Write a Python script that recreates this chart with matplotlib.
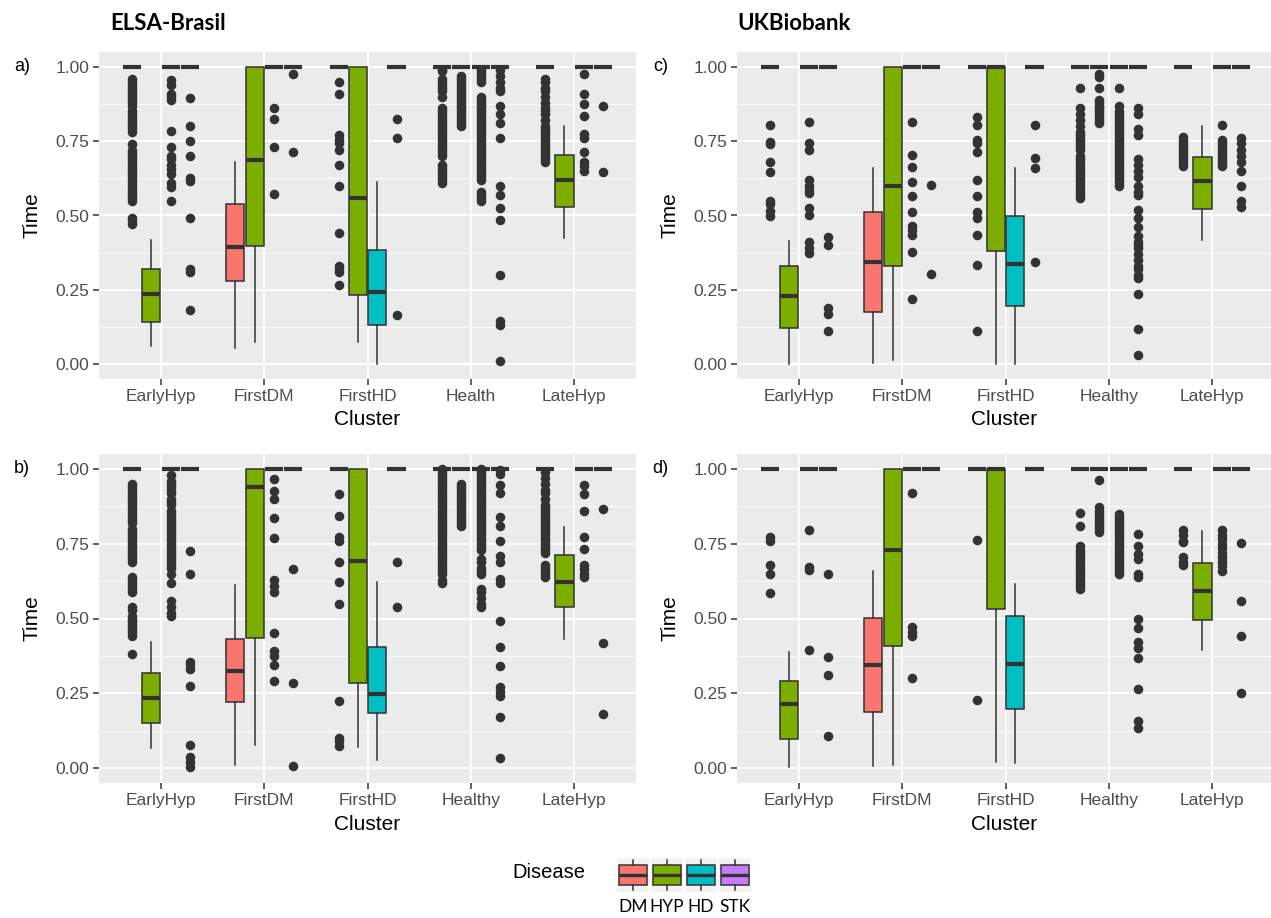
"""
Time-to-disease boxplots by cluster, ELSA-Brasil vs UKBiobank (ggplot look).
"""
import matplotlib
matplotlib.use("Agg")
import matplotlib.pyplot as plt

DISEASES = ["DM", "HYP", "HD", "STK"]
DISEASE_COLORS = ["#F8766D", "#7CAE00", "#00BFC4", "#C77CFF"]
CLUSTERS = ["EarlyHyp", "FirstDM", "FirstHD", "Healthy", "LateHyp"]
TICKS_A = ["EarlyHyp", "FirstDM", "FirstHD", "Health", "LateHyp"]
TICKS_BCD = ["EarlyHyp", "FirstDM", "FirstHD", "Healthy", "LateHyp"]
Y_TICKS = [0.0, 0.25, 0.5, 0.75, 1.0]
Y_TICK_LABELS = ["0.00", "0.25", "0.50", "0.75", "1.00"]

# (whisker low, q1, median, q3, whisker high); groups not listed sit entirely at 1.00
BOX_A = {
    ("EarlyHyp", "HYP"): (0.06, 0.143, 0.235, 0.32, 0.418),
    ("FirstDM", "DM"): (0.054, 0.28, 0.393, 0.54, 0.679),
    ("FirstDM", "HYP"): (0.076, 0.396, 0.687, 1.0, 1.0),
    ("FirstHD", "HYP"): (0.076, 0.233, 0.558, 1.0, 1.0),
    ("FirstHD", "HD"): (0.0, 0.13, 0.244, 0.385, 0.614),
    ("LateHyp", "HYP"): (0.424, 0.53, 0.62, 0.704, 0.80),
}
FLIERS_A = {
    ("EarlyHyp", "DM"): [0.96, 0.95, 0.94, 0.93, 0.92, 0.91, 0.90, 0.89, 0.88, 0.87, 0.85, 0.84, 0.83,
                         0.82, 0.81, 0.80, 0.79, 0.78, 0.74, 0.72, 0.71, 0.70, 0.69, 0.68, 0.67, 0.66,
                         0.65, 0.64, 0.63, 0.62, 0.61, 0.60, 0.59, 0.58, 0.57, 0.56, 0.55, 0.49, 0.48, 0.47],
    ("EarlyHyp", "HD"): [0.955, 0.94, 0.91, 0.90, 0.89, 0.785, 0.73, 0.70, 0.69, 0.67, 0.655, 0.64,
                         0.61, 0.595, 0.55],
    ("EarlyHyp", "STK"): [0.895, 0.80, 0.75, 0.70, 0.625, 0.615, 0.493, 0.32, 0.31, 0.183],
    ("FirstDM", "HD"): [0.86, 0.825, 0.73, 0.572],
    ("FirstDM", "STK"): [0.976, 0.713],
    ("FirstHD", "DM"): [0.95, 0.91, 0.77, 0.755, 0.745, 0.72, 0.67, 0.60, 0.44, 0.33, 0.32, 0.31, 0.267],
    ("FirstHD", "STK"): [0.825, 0.762, 0.164],
    ("Healthy", "DM"): [0.99, 0.985, 0.96, 0.95, 0.94, 0.93, 0.92, 0.90, 0.86, 0.85, 0.84, 0.83, 0.82,
                        0.81, 0.80, 0.79, 0.78, 0.77, 0.76, 0.75, 0.74, 0.73, 0.72, 0.71, 0.70, 0.67,
                        0.66, 0.65, 0.64, 0.63, 0.62, 0.61],
    ("Healthy", "HYP"): [0.97, 0.96, 0.95, 0.94, 0.93, 0.92, 0.91, 0.90, 0.89, 0.88, 0.87, 0.86, 0.85,
                         0.84, 0.83, 0.82, 0.81, 0.80],
    ("Healthy", "HD"): [0.99, 0.98, 0.97, 0.96, 0.95, 0.90, 0.89, 0.88, 0.87, 0.86, 0.85, 0.84, 0.83,
                        0.82, 0.81, 0.80, 0.79, 0.78, 0.77, 0.76, 0.75, 0.74, 0.73, 0.72, 0.71, 0.70,
                        0.69, 0.68, 0.67, 0.66, 0.65, 0.64, 0.63, 0.62, 0.58, 0.57, 0.56, 0.55],
    ("Healthy", "STK"): [0.99, 0.97, 0.95, 0.93, 0.92, 0.87, 0.84, 0.81, 0.76, 0.60, 0.57, 0.525, 0.485,
                         0.30, 0.145, 0.13, 0.01],
    ("LateHyp", "DM"): [0.96, 0.95, 0.93, 0.92, 0.90, 0.88, 0.86, 0.85, 0.84, 0.82, 0.80, 0.79, 0.78,
                        0.77, 0.76, 0.75, 0.74, 0.73, 0.72, 0.71, 0.70, 0.69, 0.68],
    ("LateHyp", "HD"): [0.975, 0.908, 0.874, 0.835, 0.773, 0.76, 0.712, 0.68, 0.665, 0.65],
    ("LateHyp", "STK"): [0.867, 0.645],
}

BOX_B = {
    ("EarlyHyp", "HYP"): (0.067, 0.15, 0.235, 0.318, 0.42),
    ("FirstDM", "DM"): (0.009, 0.22, 0.324, 0.433, 0.613),
    ("FirstDM", "HYP"): (0.076, 0.436, 0.939, 1.0, 1.0),
    ("FirstHD", "HYP"): (0.07, 0.284, 0.692, 1.0, 1.0),
    ("FirstHD", "HD"): (0.028, 0.184, 0.249, 0.405, 0.622),
    ("LateHyp", "HYP"): (0.43, 0.538, 0.622, 0.711, 0.806),
}
FLIERS_B = {
    ("EarlyHyp", "DM"): [0.95, 0.94, 0.93, 0.92, 0.91, 0.90, 0.89, 0.88, 0.87, 0.86, 0.85, 0.84, 0.83,
                         0.82, 0.80, 0.79, 0.78, 0.77, 0.76, 0.75, 0.74, 0.73, 0.72, 0.71, 0.70, 0.69,
                         0.64, 0.63, 0.62, 0.61, 0.60, 0.59, 0.54, 0.53, 0.51, 0.50, 0.49, 0.48, 0.47,
                         0.46, 0.45, 0.44, 0.38],
    ("EarlyHyp", "HD"): [0.98, 0.96, 0.95, 0.94, 0.93, 0.92, 0.90, 0.89, 0.88, 0.86, 0.85, 0.84, 0.83,
                         0.82, 0.81, 0.80, 0.79, 0.78, 0.77, 0.76, 0.75, 0.74, 0.73, 0.72, 0.71, 0.70,
                         0.69, 0.68, 0.67, 0.65, 0.62, 0.56, 0.54, 0.52, 0.51],
    ("EarlyHyp", "STK"): [0.727, 0.65, 0.355, 0.345, 0.33, 0.273, 0.076, 0.037, 0.02, 0.005],
    ("FirstDM", "HD"): [0.968, 0.926, 0.90, 0.837, 0.769, 0.628, 0.61, 0.59, 0.45, 0.39, 0.375, 0.345, 0.29],
    ("FirstDM", "STK"): [0.667, 0.284, 0.006],
    ("FirstHD", "DM"): [0.917, 0.843, 0.773, 0.76, 0.69, 0.622, 0.547, 0.223, 0.10, 0.09, 0.075],
    ("FirstHD", "STK"): [0.689, 0.538],
    ("Healthy", "DM"): [1.0, 0.99, 0.98, 0.97, 0.96, 0.95, 0.94, 0.93, 0.92, 0.91, 0.90, 0.89, 0.88,
                        0.87, 0.86, 0.85, 0.84, 0.83, 0.82, 0.81, 0.80, 0.79, 0.78, 0.77, 0.76, 0.75,
                        0.74, 0.73, 0.72, 0.71, 0.70, 0.69, 0.68, 0.67, 0.66, 0.65, 0.63, 0.62],
    ("Healthy", "HYP"): [0.95, 0.94, 0.93, 0.92, 0.91, 0.90, 0.89, 0.88, 0.87, 0.86, 0.85, 0.84, 0.83,
                         0.82, 0.81],
    ("Healthy", "HD"): [1.0, 0.99, 0.98, 0.97, 0.96, 0.95, 0.94, 0.93, 0.92, 0.91, 0.90, 0.89, 0.88,
                        0.87, 0.86, 0.85, 0.84, 0.83, 0.82, 0.81, 0.80, 0.79, 0.78, 0.77, 0.76, 0.75,
                        0.74, 0.73, 0.70, 0.69, 0.67, 0.66, 0.65, 0.60, 0.59, 0.57, 0.55, 0.54],
    ("Healthy", "STK"): [0.995, 0.984, 0.945, 0.92, 0.84, 0.81, 0.76, 0.71, 0.69, 0.632, 0.62, 0.49,
                         0.405, 0.34, 0.27, 0.255, 0.24, 0.17, 0.035],
    ("LateHyp", "DM"): [0.99, 0.97, 0.95, 0.93, 0.92, 0.90, 0.88, 0.87, 0.86, 0.85, 0.84, 0.83, 0.82,
                        0.81, 0.80, 0.79, 0.78, 0.77, 0.76, 0.75, 0.74, 0.73, 0.72, 0.68, 0.67, 0.66,
                        0.65, 0.64],
    ("LateHyp", "HD"): [0.945, 0.917, 0.858, 0.773, 0.731, 0.68, 0.665, 0.65, 0.64],
    ("LateHyp", "STK"): [0.867, 0.419, 0.182],
}

BOX_C = {
    ("EarlyHyp", "HYP"): (0.0, 0.12, 0.228, 0.331, 0.413),
    ("FirstDM", "DM"): (0.003, 0.175, 0.343, 0.511, 0.661),
    ("FirstDM", "HYP"): (0.015, 0.331, 0.598, 1.0, 1.0),
    ("FirstHD", "HYP"): (0.0, 0.382, 1.0, 1.0, 1.0),
    ("FirstHD", "HD"): (0.0, 0.194, 0.336, 0.499, 0.661),
    ("LateHyp", "HYP"): (0.418, 0.521, 0.617, 0.698, 0.80),
}
FLIERS_C = {
    ("EarlyHyp", "DM"): [0.805, 0.747, 0.74, 0.68, 0.648, 0.55, 0.54, 0.515, 0.497],
    ("EarlyHyp", "HD"): [0.816, 0.743, 0.72, 0.62, 0.60, 0.585, 0.575, 0.525, 0.50, 0.41, 0.39, 0.373],
    ("EarlyHyp", "STK"): [0.426, 0.40, 0.19, 0.17, 0.112],
    ("FirstDM", "HD"): [0.814, 0.704, 0.663, 0.614, 0.564, 0.513, 0.463, 0.45, 0.435, 0.377, 0.22],
    ("FirstDM", "STK"): [0.603, 0.303],
    ("FirstHD", "DM"): [0.833, 0.805, 0.755, 0.745, 0.715, 0.62, 0.564, 0.513, 0.49, 0.435, 0.332, 0.113],
    ("FirstHD", "STK"): [0.803, 0.693, 0.66, 0.343],
    ("Healthy", "DM"): [0.93, 0.86, 0.84, 0.82, 0.80, 0.78, 0.77, 0.76, 0.75, 0.74, 0.73, 0.72, 0.70,
                        0.69, 0.68, 0.67, 0.66, 0.65, 0.64, 0.63, 0.62, 0.61, 0.60, 0.59, 0.58, 0.57, 0.56],
    ("Healthy", "HYP"): [0.975, 0.965, 0.928, 0.89, 0.88, 0.87, 0.86, 0.85, 0.84, 0.83, 0.82, 0.81],
    ("Healthy", "HD"): [0.928, 0.867, 0.85, 0.84, 0.83, 0.82, 0.81, 0.80, 0.79, 0.78, 0.77, 0.76, 0.75,
                        0.74, 0.73, 0.72, 0.71, 0.70, 0.69, 0.68, 0.67, 0.66, 0.65, 0.64, 0.63, 0.62,
                        0.61, 0.60],
    ("Healthy", "STK"): [0.86, 0.84, 0.79, 0.77, 0.69, 0.67, 0.65, 0.63, 0.60, 0.58, 0.57, 0.52, 0.49,
                         0.46, 0.43, 0.41, 0.40, 0.39, 0.37, 0.35, 0.33, 0.32, 0.30, 0.29, 0.235, 0.119, 0.03],
    ("LateHyp", "DM"): [0.765, 0.75, 0.74, 0.73, 0.72, 0.71, 0.70, 0.69, 0.68, 0.665],
    ("LateHyp", "HD"): [0.805, 0.755, 0.745, 0.735, 0.725, 0.715, 0.705, 0.695, 0.685, 0.675, 0.665],
    ("LateHyp", "STK"): [0.76, 0.745, 0.72, 0.70, 0.68, 0.65, 0.60, 0.55, 0.53],
}

BOX_D = {
    ("EarlyHyp", "HYP"): (0.003, 0.097, 0.213, 0.291, 0.389),
    ("FirstDM", "DM"): (0.008, 0.187, 0.345, 0.501, 0.66),
    ("FirstDM", "HYP"): (0.011, 0.408, 0.73, 1.0, 1.0),
    ("FirstHD", "HYP"): (0.019, 0.531, 1.0, 1.0, 1.0),
    ("FirstHD", "HD"): (0.017, 0.196, 0.347, 0.507, 0.615),
    ("LateHyp", "HYP"): (0.395, 0.496, 0.591, 0.686, 0.791),
}
FLIERS_D = {
    ("EarlyHyp", "DM"): [0.772, 0.76, 0.679, 0.649, 0.585],
    ("EarlyHyp", "HD"): [0.796, 0.671, 0.663, 0.394],
    ("EarlyHyp", "STK"): [0.649, 0.372, 0.311, 0.108],
    ("FirstDM", "HD"): [0.921, 0.47, 0.455, 0.44, 0.302],
    ("FirstHD", "DM"): [0.763, 0.229],
    ("Healthy", "DM"): [0.853, 0.809, 0.744, 0.73, 0.72, 0.71, 0.70, 0.69, 0.68, 0.67, 0.66, 0.65,
                        0.64, 0.63, 0.62, 0.61, 0.598],
    ("Healthy", "HYP"): [0.964, 0.873, 0.86, 0.85, 0.84, 0.83, 0.82, 0.81, 0.80, 0.79],
    ("Healthy", "HD"): [0.85, 0.84, 0.83, 0.82, 0.81, 0.80, 0.79, 0.78, 0.77, 0.76, 0.75, 0.74, 0.73,
                        0.72, 0.71, 0.70, 0.69, 0.68, 0.67, 0.66, 0.649],
    ("Healthy", "STK"): [0.783, 0.744, 0.716, 0.70, 0.649, 0.638, 0.498, 0.468, 0.42, 0.40, 0.367,
                         0.263, 0.157, 0.134],
    ("LateHyp", "DM"): [0.795, 0.78, 0.76, 0.755, 0.705, 0.69, 0.68],
    ("LateHyp", "HD"): [0.795, 0.78, 0.765, 0.75, 0.735, 0.72, 0.705, 0.69, 0.675, 0.66],
    ("LateHyp", "STK"): [0.752, 0.559, 0.44, 0.252],
}

W, H = 1271, 918
DODGE = [-0.28, -0.094, 0.094, 0.28]
BOX_W = 0.175
DARK = "#333333"
PX_PER_UNIT = 103.3


def px_axes(fig, left, top, right, bottom):
    return fig.add_axes([left / W, 1 - bottom / H, (right - left) / W, (bottom - top) / H])


def draw_panel(ax, boxes, fliers, ticks, width_px, tag):
    stats, pos, cols = [], [], []
    for ci, cl in enumerate(CLUSTERS):
        for di, d in enumerate(DISEASES):
            lo, q1, med, q3, hi = boxes.get((cl, d), (1.0, 1.0, 1.0, 1.0, 1.0))
            stats.append(dict(whislo=lo, q1=q1, med=med, q3=q3, whishi=hi,
                              fliers=fliers.get((cl, d), [])))
            pos.append(ci + 1 + DODGE[di])
            cols.append(DISEASE_COLORS[di])

    bp = ax.bxp(stats, positions=pos, widths=BOX_W, patch_artist=True, showcaps=False,
                boxprops=dict(edgecolor=DARK, linewidth=1.1),
                medianprops=dict(color=DARK, linewidth=3.0, solid_capstyle="butt"),
                whiskerprops=dict(color=DARK, linewidth=1.1),
                flierprops=dict(marker="o", markersize=6.9, markerfacecolor=DARK,
                                markeredgecolor="none"))
    for patch, c in zip(bp["boxes"], cols):
        patch.set_facecolor(c)

    ax.set_xlim(0.4, 0.4 + width_px / PX_PER_UNIT)
    ax.set_ylim(-0.05, 1.05)
    ax.set_facecolor("#EBEBEB")
    for s in ax.spines.values():
        s.set_visible(False)
    ax.set_xticks(range(1, 6))
    ax.set_xticklabels(ticks)
    ax.set_yticks(Y_TICKS)
    ax.set_yticklabels(Y_TICK_LABELS)
    ax.set_yticks([0.125, 0.375, 0.625, 0.875], minor=True)
    ax.tick_params(axis="both", which="major", length=4, width=1.1, color=DARK,
                   labelcolor="#4D4D4D", labelsize=12.5, pad=3)
    ax.tick_params(axis="y", which="minor", length=0)
    ax.set_axisbelow(True)
    ax.grid(True, which="major", color="white", linewidth=1.3)
    ax.yaxis.grid(True, which="minor", color="white", linewidth=0.6)

    ax.set_xlabel("Cluster", fontsize=15, color="black")
    ax.xaxis.set_label_coords(0.5, -0.125)
    ax.xaxis.label.set_va("center")
    ax.set_ylabel("Time", fontsize=15, color="black")
    ax.yaxis.set_label_coords(-0.125, 0.5)
    ax.yaxis.label.set_va("center")
    ax.text(-0.143, 0.9545, tag, transform=ax.transAxes, fontsize=13, ha="center", va="center")


def main():
    plt.rcParams["font.family"] = ["Liberation Sans", "DejaVu Sans"]
    fig = plt.figure(figsize=(W / 100, H / 100), dpi=100)

    ax_a = px_axes(fig, 99, 52, 636, 379)
    ax_b = px_axes(fig, 99, 454, 636, 783)
    ax_c = px_axes(fig, 737, 52, 1271, 379)
    ax_d = px_axes(fig, 737, 454, 1271, 783)

    draw_panel(ax_a, BOX_A, FLIERS_A, TICKS_A, 537, "a)")
    draw_panel(ax_b, BOX_B, FLIERS_B, TICKS_BCD, 537, "b)")
    draw_panel(ax_c, BOX_C, FLIERS_C, TICKS_BCD, 534, "c)")
    draw_panel(ax_d, BOX_D, FLIERS_D, TICKS_BCD, 534, "d)")

    fig.text(110 / W, 1 - 24 / H, "ELSA-Brasil", fontsize=16, fontweight="bold",
             family="Lato", va="center")
    fig.text(737 / W, 1 - 24 / H, "UKBiobank", fontsize=16, fontweight="bold",
             family="Lato", va="center")

    # legend: ggplot-style box keys
    leg = px_axes(fig, 616, 858, 752, 892)
    leg.set_xlim(0.5, 4.5)
    leg.set_ylim(0, 1)
    leg.axis("off")
    keys = [1, 2, 3, 4]
    leg.bar(keys, [1] * 4, width=0.94, bottom=0, color="#F2F2F2", zorder=0)
    key_stats = [dict(whislo=0.05, q1=0.22, med=0.5, q3=0.78, whishi=0.95, fliers=[]) for _ in keys]
    kb = leg.bxp(key_stats, positions=keys, widths=0.82, patch_artist=True, showcaps=False,
                 boxprops=dict(edgecolor=DARK, linewidth=1.1),
                 medianprops=dict(color=DARK, linewidth=2.4, solid_capstyle="butt"),
                 whiskerprops=dict(color=DARK, linewidth=1.1))
    for patch, c in zip(kb["boxes"], DISEASE_COLORS):
        patch.set_facecolor(c)
    for k, name in zip(keys, DISEASES):
        leg.text(k, -0.45, name, ha="center", va="center", fontsize=12.5, family="Lato",
                 clip_on=False)
    fig.text(549 / W, 1 - 873 / H, "Disease", fontsize=14.5, ha="center", va="center")

    fig.savefig("out.png", dpi=100)
    plt.close(fig)


if __name__ == "__main__":
    main()
